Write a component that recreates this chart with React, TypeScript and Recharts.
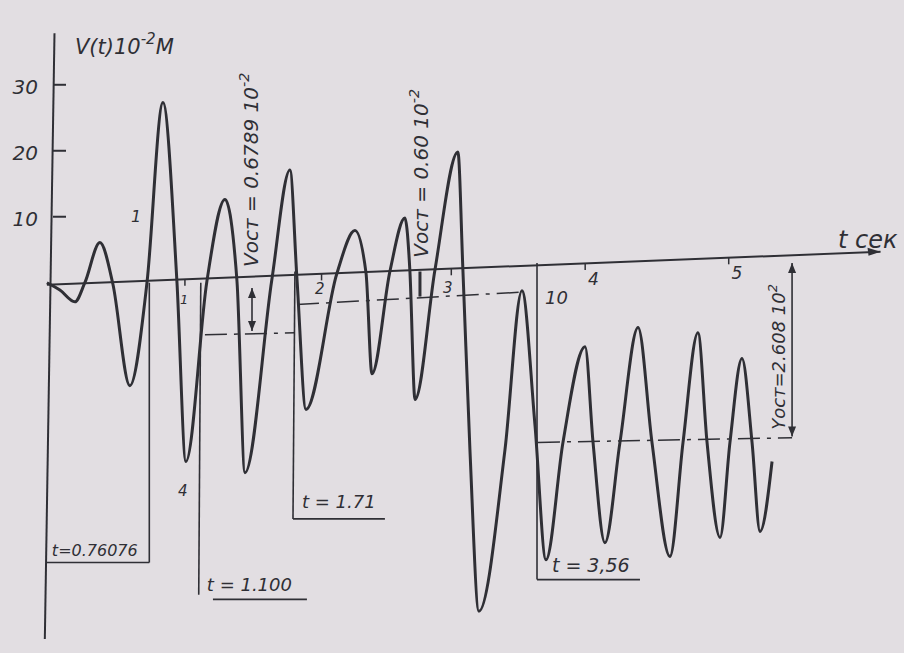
import React from 'react';
import { LineChart, Line, XAxis, YAxis, ReferenceLine, ReferenceDot } from 'recharts';

const INK = '#2f2f35';
const PAPER = '#e2dee2';
const FONT = "'DejaVu Sans', sans-serif";

// time, sec (extrema and crossings)
const tSec = [
  0, 0.094, 0.203, 0.275, 0.384, 0.478, 0.601, 0.725, 0.841, 0.942,
  1.007, 1.159, 1.29, 1.377, 1.435, 1.63, 1.761, 1.812, 1.877, 2.101,
  2.232, 2.312, 2.355, 2.486, 2.594, 2.63, 2.667, 2.812, 2.978, 3.014,
  3.065, 3.13, 3.319, 3.442, 3.536, 3.616, 3.739, 3.899, 3.957, 4.043,
  4.152, 4.283, 4.384, 4.514, 4.609, 4.717, 4.783, 4.877, 4.949, 5.036,
  5.109, 5.167, 5.254,
];
// V(t), 10^-2 m
const vDisp = [
  0, -1.1, -2.9, 0, 6.1, -0.2, -15.6, 0, 27.3, 0.2,
  -27.1, 0.2, 12.6, 0.3, -28.8, 0.5, 17.1, 0.5, -19.2, 1.4,
  7.9, 1.5, -13.8, 1.8, 9.8, 1.8, -17.7, 2.0, 19.8, 2.0,
  -25.3, -49.8, -25.3, -1.2, -21.5, -42.0, -24.2, -9.7, -24.2, -39.4,
  -24.2, -6.8, -24.2, -41.5, -24.2, -7.6, -24.2, -38.6, -24.2, -11.5,
  -24.2, -37.7, -27.1,
];
const yTicks = [10, 20, 30];
const tMarks = [1.0, 1.99, 2.93, 3.9, 4.94];

const data = tSec.map((t, i) => ({ t, v: vDisp[i] }));

// the hand-drawn time axis is a little tilted
const axisV = (t: number) => -0.3 + t * (5.0 / 6.04);

type Pt = [number, number];
const solidSegs: Pt[][] = [
  [[0.742, 0], [0.742, -42.4]],
  [[0, -42.4], [0.742, -42.4]],
  [[1.115, 0], [1.1, -47.3]],
  [[1.203, -48.0], [1.884, -48.0]],
  [[1.797, 1.7], [1.783, -35.8]],
  [[1.783, -35.8], [2.449, -35.8]],
  [[3.551, 3.0], [3.551, -45.0]],
  [[3.551, -45.0], [4.297, -45.0]],
  [[1.486, -0.8], [1.486, -7.3]],
  [[5.399, 3.0], [5.399, -23.3]],
];
const dashSegs: Pt[][] = [
  [[1.145, -7.9], [1.797, -7.6]],
  [[1.812, -3.3], [3.464, -1.4]],
  [[3.558, -24.2], [5.399, -23.5]],
];
const arrows: { t: number; v: number; dir: string }[] = [
  { t: 1.486, v: -0.8, dir: 'up' },
  { t: 1.486, v: -7.3, dir: 'down' },
  { t: 5.399, v: 3.0, dir: 'up' },
  { t: 5.399, v: -23.3, dir: 'down' },
  { t: 6.04, v: 4.7, dir: 'right' },
];

type Note = { t: number; v: number; text: string; sup?: string; tail?: string; size: number; rot?: boolean };
const notes: Note[] = [
  { t: 0.203, v: 34.7, text: 'V(t)10', sup: '-2', tail: 'M', size: 21 },
  { t: 5.732, v: 5.3, text: 't сек', size: 24 },
  { t: 0.036, v: -41.4, text: 't=0.76076', size: 16 },
  { t: 1.159, v: -46.7, text: 't = 1.100', size: 18 },
  { t: 1.848, v: -34.2, text: 't = 1.71', size: 18 },
  { t: 3.659, v: -43.8, text: 't = 3,56', size: 19 },
  { t: 3.609, v: -3.2, text: '10', size: 18 },
  { t: 0.964, v: -3.3, text: '1', size: 13 },
  { t: 1.942, v: -1.7, text: '2', size: 15 },
  { t: 2.869, v: -1.5, text: '3', size: 15 },
  { t: 3.92, v: -0.3, text: '4', size: 17 },
  { t: 4.96, v: 0.5, text: '5', size: 17 },
  { t: 0.609, v: 9.2, text: '1', size: 16 },
  { t: 0.949, v: -32.4, text: '4', size: 15 },
  { t: 1.529, v: 2.4, text: 'Vост = 0.6789 10', sup: '-2', size: 20, rot: true },
  { t: 2.761, v: 3.8, text: 'Vост = 0.60 10', sup: '-2', size: 20, rot: true },
  { t: 5.348, v: -22.3, text: 'Yост=2.608 10', sup: '2', size: 18, rot: true },
];

const noteShape = (n: Note) => (p: any) => (
  <text
    x={p.cx}
    y={p.cy}
    transform={n.rot ? `rotate(-90 ${p.cx} ${p.cy})` : undefined}
    fontFamily={FONT}
    fontStyle="italic"
    fontSize={n.size}
    fill={INK}
  >
    {n.text}
    {n.sup && <tspan dy={-n.size * 0.45} fontSize={n.size * 0.72}>{n.sup}</tspan>}
    {n.tail && <tspan dy={n.size * 0.45}>{n.tail}</tspan>}
  </text>
);

const arrowShape = (dir: string) => (p: any) => {
  const { cx, cy } = p;
  let d = `M${cx},${cy} l-4,10 l8,0 z`;
  if (dir === 'down') d = `M${cx},${cy} l-4,-10 l8,0 z`;
  if (dir === 'right') d = `M${cx},${cy} l-13,-4 l1,8 z`;
  return <path d={d} fill={INK} />;
};

const renderYTick = (p: any) => {
  const { x, y, payload } = p;
  return (
    <g>
      <line x1={x + 13} x2={x + 26} y1={y} y2={y} stroke={INK} strokeWidth={2} />
      <text x={x - 2} y={y + 9} textAnchor="end" fontFamily={FONT} fontStyle="italic" fontSize={20} fill={INK}>
        {payload.value}
      </text>
    </g>
  );
};

export default function App() {
  return (
    <div style={{ position: 'absolute', left: 0, top: 0, width: 904, height: 653, background: PAPER, overflow: 'hidden' }}>
      <LineChart width={904} height={653} data={data} margin={{ top: 32, right: 0, bottom: 14, left: 0 }}>
        <XAxis type="number" dataKey="t" domain={[-0.05, 6.21]} allowDataOverflow hide />
        <YAxis
          type="number"
          domain={[-54, 38]}
          ticks={yTicks}
          interval={0}
          width={40}
          axisLine={false}
          tickLine={false}
          tickSize={0}
          tickMargin={0}
          tick={renderYTick}
          allowDataOverflow
        />
        {/* vertical axis */}
        <ReferenceLine segment={[{ x: 0.055, y: 37.8 }, { x: -0.015, y: -54 }]} stroke={INK} strokeWidth={2} ifOverflow="visible" />
        {/* time axis */}
        <ReferenceLine segment={[{ x: 0, y: axisV(0) }, { x: 6.04, y: axisV(6.04) }]} stroke={INK} strokeWidth={2} ifOverflow="visible" />
        {tMarks.map((t) => (
          <ReferenceLine key={`m${t}`} segment={[{ x: t, y: axisV(t) }, { x: t, y: axisV(t) - 1 }]} stroke={INK} strokeWidth={1.5} ifOverflow="visible" />
        ))}
        {solidSegs.map((s, i) => (
          <ReferenceLine key={`s${i}`} segment={[{ x: s[0][0], y: s[0][1] }, { x: s[1][0], y: s[1][1] }]} stroke={INK} strokeWidth={1.6} ifOverflow="visible" />
        ))}
        <ReferenceLine segment={[{ x: 2.703, y: 1.7 }, { x: 2.703, y: -2.1 }]} stroke={INK} strokeWidth={3} ifOverflow="visible" />
        {dashSegs.map((s, i) => (
          <ReferenceLine key={`d${i}`} segment={[{ x: s[0][0], y: s[0][1] }, { x: s[1][0], y: s[1][1] }]} stroke={INK} strokeWidth={1.5} strokeDasharray="22 7 4 7" ifOverflow="visible" />
        ))}
        {arrows.map((a, i) => (
          <ReferenceDot key={`a${i}`} x={a.t} y={a.v} r={1} shape={arrowShape(a.dir)} ifOverflow="visible" />
        ))}
        {notes.map((n, i) => (
          <ReferenceDot key={`n${i}`} x={n.t} y={n.v} r={1} shape={noteShape(n)} ifOverflow="visible" />
        ))}
        <Line dataKey="v" type="monotone" stroke={INK} strokeWidth={3} dot={false} isAnimationActive={false} />
      </LineChart>
    </div>
  );
}
